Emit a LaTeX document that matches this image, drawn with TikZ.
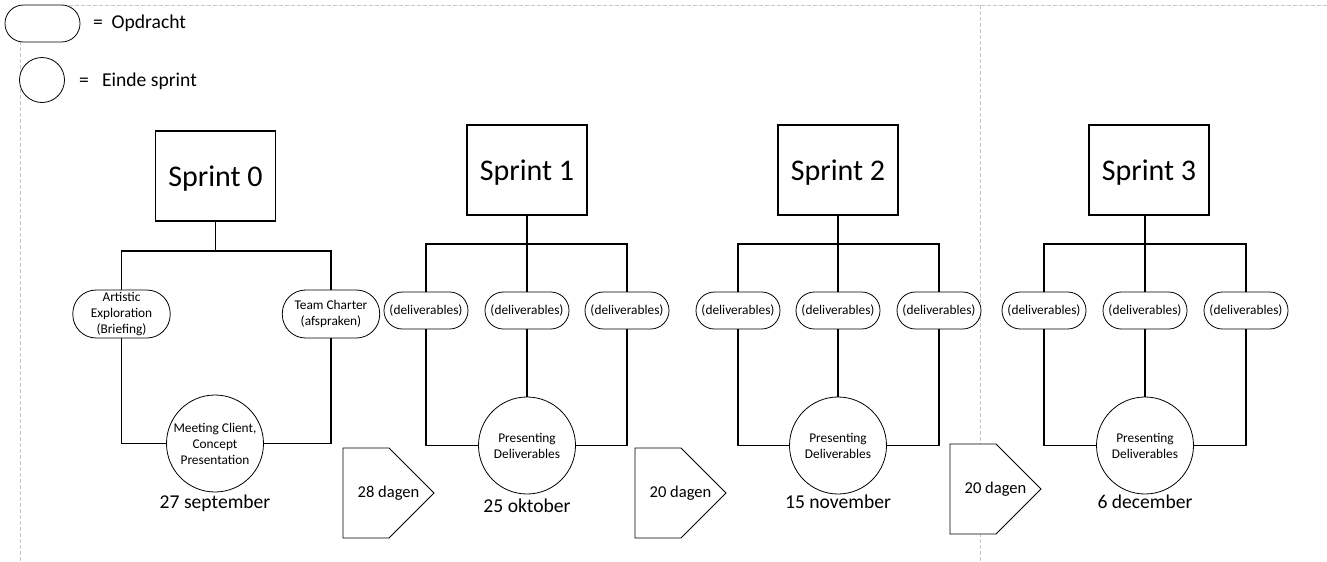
\documentclass[tikz,border=0pt]{standalone}
\usepackage{fontspec}
\setmainfont{Carlito}
\begin{document}
\begin{tikzpicture}[x=0.75pt,y=-0.75pt,line width=0.9pt,
    sprint/.style={draw,rectangle,minimum width=90pt,minimum height=67.5pt,text depth=0pt,font=\fontsize{22.5}{26}\selectfont},
    opdracht/.style={draw,fill=white,rectangle,rounded corners=13.8pt,minimum width=63pt,minimum height=27.75pt,inner sep=1pt,line width=0.6pt,align=center,font=\fontsize{10}{12}\selectfont},
    grootopdracht/.style={opdracht,rounded corners=17.5pt,minimum width=73pt,minimum height=36pt},
    einde/.style={draw,fill=white,circle,minimum size=72.75pt,inner sep=0pt,line width=0.6pt,align=center,font=\fontsize{10}{12}\selectfont},
    datum/.style={anchor=base,font=\fontsize{14.7}{17}\selectfont},
    legenda/.style={anchor=west,font=\fontsize{14.7}{17}\selectfont},
    dagen/.style={inner sep=0pt,font=\fontsize{12.4}{15}\selectfont},
    pijlvorm/.style={fill=white,line width=0.6pt,line join=miter},
    hulplijn/.style={draw=gray!45,line width=0.5pt,dash pattern=on 3pt off 1.5pt}]
    \useasboundingbox (0,0) rectangle (1327,561);
    \draw [hulplijn] (20.5,5) -- (1327,5);
    \draw [hulplijn] (20.5,5) -- (20.5,561);
    \draw [hulplijn] (980,5) -- (980,561);
    % legenda
    \node [opdracht,minimum width=56.25pt] (lopdracht) at (42.5,23.5) {};
    \node [legenda] (topdracht) at (88,23) {=~~Opdracht};
    \node [einde,minimum size=33.75pt] (leinde) at (42,80) {};
    \node [legenda] (teinde) at (74,81.5) {=~~~Einde sprint};
    % sprint 0
    \node [sprint] (s0) at (215.5,176) {Sprint 0};
    \coordinate (v0) at (215.5,251);
    \node [grootopdracht] (a0) at (121.5,314) {Artistic\\Exploration\\(Briefing)};
    \node [grootopdracht] (t0) at (331,314) {Team Charter\\(afspraken)};
    \node [einde] (e0) at (215,443.5) {Meeting Client,\\Concept\\Presentation};
    \node [datum] (dt0) at (215,508) {27 september};
    \draw (s0) -- (v0);
    \draw (a0) |- (v0) -| (t0);
    \draw (a0) |- (e0) -| (t0);
    \coordinate (p01) at (388.5,493);
    \draw [pijlvorm] (p01) ++(-45.5,-45) -- ++(46,0) -- ++(45,45) -- ++(-45,45) -- ++(-46,0) -- cycle;
    \node [dagen] (l01) at (p01) {28 dagen};
    % sprint 1
    \node [sprint] (s1) at (527,170) {Sprint 1};
    \coordinate (v1) at (527,244);
    \node [opdracht] (d1a) at (426,310.5) {(deliverables)};
    \node [opdracht] (d1b) at (527,310.5) {(deliverables)};
    \node [opdracht] (d1c) at (627,310.5) {(deliverables)};
    \node [einde] (e1) at (527,445.5) {Presenting\\Deliverables};
    \node [datum] (dt1) at (527,512) {25 oktober};
    \draw (s1) -- (v1);
    \draw (d1a) |- (v1) -| (d1c);
    \draw (v1) -- (d1b);
    \draw (d1a) |- (e1) -| (d1c);
    \draw (d1b) -- (e1);
    \coordinate (p12) at (680.5,493);
    \draw [pijlvorm] (p12) ++(-45.5,-45) -- ++(46,0) -- ++(45,45) -- ++(-45,45) -- ++(-46,0) -- cycle;
    \node [dagen] (l12) at (p12) {20 dagen};
    % sprint 2
    \node [sprint] (s2) at (838,170) {Sprint 2};
    \coordinate (v2) at (838,244);
    \node [opdracht] (d2a) at (738,310.5) {(deliverables)};
    \node [opdracht] (d2b) at (838,310.5) {(deliverables)};
    \node [opdracht] (d2c) at (939,310.5) {(deliverables)};
    \node [einde] (e2) at (838,445.5) {Presenting\\Deliverables};
    \node [datum] (dt2) at (838,508) {15 november};
    \draw (s2) -- (v2);
    \draw (d2a) |- (v2) -| (d2c);
    \draw (v2) -- (d2b);
    \draw (d2a) |- (e2) -| (d2c);
    \draw (d2b) -- (e2);
    \coordinate (p23) at (995.5,489);
    \draw [pijlvorm] (p23) ++(-45.5,-45) -- ++(46,0) -- ++(45,45) -- ++(-45,45) -- ++(-46,0) -- cycle;
    \node [dagen] (l23) at (p23) {20 dagen};
    % sprint 3
    \node [sprint] (s3) at (1149,170) {Sprint 3};
    \coordinate (v3) at (1145,244);
    \node [opdracht] (d3a) at (1044,310.5) {(deliverables)};
    \node [opdracht] (d3b) at (1145,310.5) {(deliverables)};
    \node [opdracht] (d3c) at (1246,310.5) {(deliverables)};
    \node [einde] (e3) at (1145,445.5) {Presenting\\Deliverables};
    \node [datum] (dt3) at (1145,508) {6 december};
    \draw (v3 |- s3.south) -- (v3);
    \draw (d3a) |- (v3) -| (d3c);
    \draw (v3) -- (d3b);
    \draw (d3a) |- (e3) -| (d3c);
    \draw (d3b) -- (e3);
\end{tikzpicture}
\end{document}
